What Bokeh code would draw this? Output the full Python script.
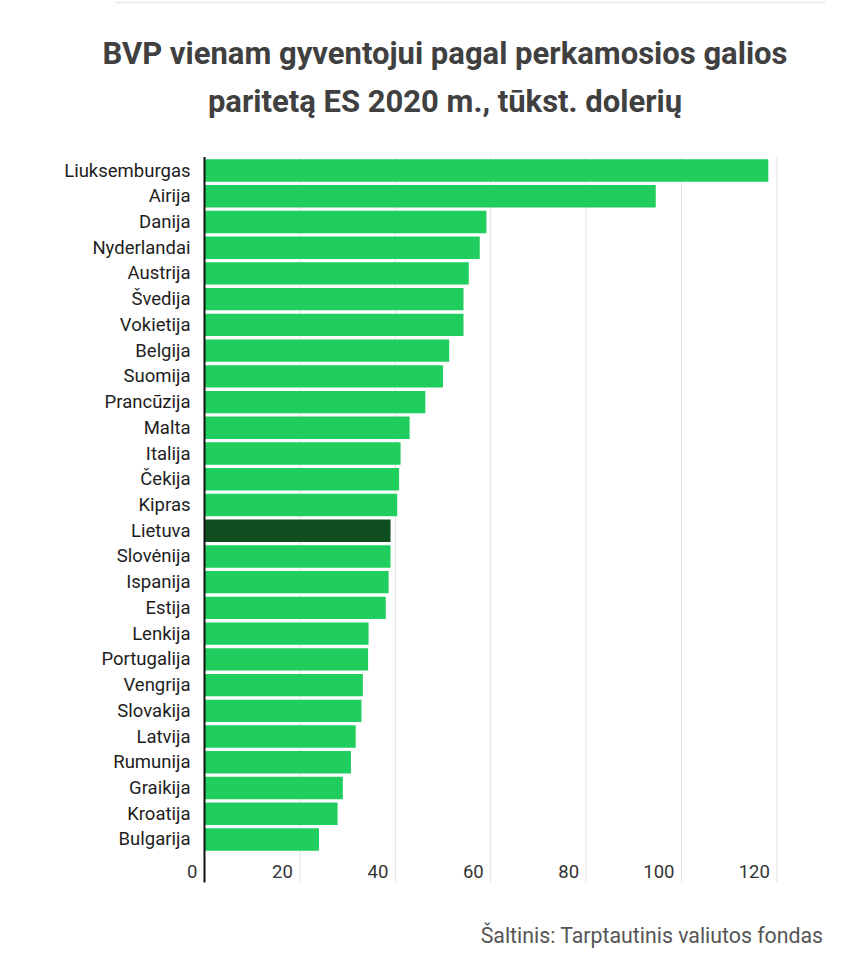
from bokeh.core.properties import value
from bokeh.embed import file_html
from bokeh.models import ColumnDataSource, Range1d
from bokeh.plotting import figure
from bokeh.resources import INLINE

countries = ["Liuksemburgas", "Airija", "Danija", "Nyderlandai", "Austrija", "Švedija",
             "Vokietija", "Belgija", "Suomija", "Prancūzija", "Malta", "Italija", "Čekija",
             "Kipras", "Lietuva", "Slovėnija", "Ispanija", "Estija", "Lenkija", "Portugalija",
             "Vengrija", "Slovakija", "Latvija", "Rumunija", "Graikija", "Kroatija", "Bulgarija"]
gdp_ppp = [118.2, 94.6, 59.1, 57.7, 55.4, 54.3, 54.3, 51.3, 50.0, 46.3, 43.0, 41.1, 40.8,
           40.4, 39.0, 39.0, 38.6, 38.0, 34.4, 34.3, 33.2, 32.9, 31.7, 30.7, 29.0, 27.9, 24.0]
highlight = "Lietuva"
x_ticks = [0, 20, 40, 60, 80, 100, 120]

title_lines = ["BVP vienam gyventojui pagal perkamosios galios",
               "paritetą ES 2020 m., tūkst. dolerių"]
source_text = "Šaltinis: Tarptautinis valiutos fondas"

GREEN = "#1fce5c"
DARK_GREEN = "#0f4f1f"

WIDTH, HEIGHT = 850, 950
ZERO_PX, UNIT_PX = 204, 4.77       # x=0 position and pixels per thousand dollars
FIRST_ROW_PX, ROW_PX = 170, 25.73  # centre of first bar and row pitch


def row(px):
    return (px - FIRST_ROW_PX) / ROW_PX


def col(px):
    return (px - ZERO_PX) / UNIT_PX


n = len(countries)
positions = list(range(n))
colors = [DARK_GREEN if c == highlight else GREEN for c in countries]
source = ColumnDataSource(data=dict(y=positions, value=gdp_ppp, color=colors, name=countries,
                                    zero=[0] * n))

# one frame covering the whole canvas; titles and labels are placed inside it
p = figure(width=WIDTH, height=HEIGHT, output_backend="svg", toolbar_location=None,
           x_range=Range1d(col(0), col(WIDTH)), y_range=Range1d(row(HEIGHT), row(0)),
           min_border=0)
p.outline_line_color = None
p.background_fill_color = "white"
p.border_fill_color = "white"
p.xaxis.visible = False
p.yaxis.visible = False
p.grid.visible = False

# faint page separator at the very top
p.segment(x0=[col(115)], x1=[col(825)], y0=[row(2)], y1=[row(2)],
          line_color="#ececec", line_width=2)

grid_top, grid_bottom = -0.52, n - 1 + 1.67
p.segment(x0=x_ticks[1:], x1=x_ticks[1:], y0=[grid_top] * (len(x_ticks) - 1),
          y1=[grid_bottom] * (len(x_ticks) - 1), line_color="#e3e3e3", line_width=1)

p.hbar(y="y", right="value", left=0, height=0.87, color="color", line_color=None, source=source)

# black zero line
p.segment(x0=[0], x1=[0], y0=[grid_top], y1=[grid_bottom], line_color="#111111", line_width=2)

# country labels
p.text(x="zero", y="y", text="name", source=source, text_align="right", text_baseline="middle",
       x_offset=-14, text_font=value("Roboto"), text_font_size="18.5px", text_color="#1e1e1e")

# x tick labels, right-aligned left of each gridline
tick_y = n - 1 + 1.25
p.text(x=x_ticks, y=[tick_y] * len(x_ticks), text=[str(t) for t in x_ticks],
       text_align="right", text_baseline="middle", x_offset=-7,
       text_font=value("Roboto"), text_font_size="18.5px", text_color="#333333")

# title, two centred lines
p.text(x=[col(444.5)] * 2, y=[row(53), row(101)], text=title_lines,
       text_align="center", text_baseline="middle", text_font=value("Roboto"),
       text_font_size="31px", text_font_style="bold", text_color="#404040")

# source note
p.text(x=[col(823)], y=[row(935)], text=[source_text], text_align="right",
       text_baseline="middle", text_font=value("Roboto"), text_font_size="21.3px",
       text_color="#555555")

open("out.html", "w").write(file_html(p, INLINE))
